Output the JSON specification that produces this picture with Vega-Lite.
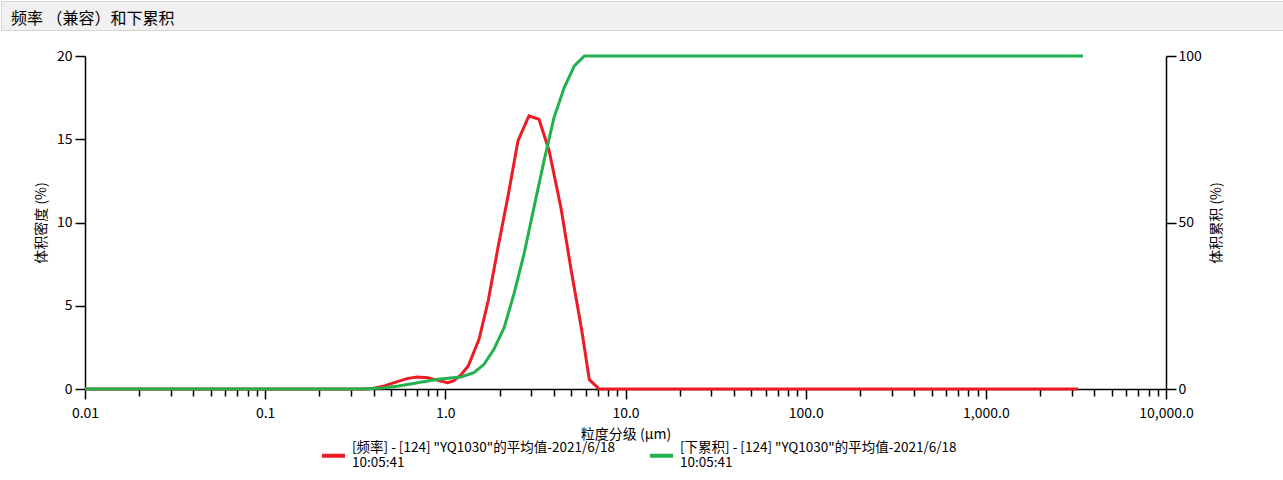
{
  "$schema": "https://vega.github.io/schema/vega-lite/v6.json",
  "padding": 0,
  "background": "white",
  "spacing": 26,
  "bounds": "flush",
  "config": {
    "font": "Noto Sans CJK SC",
    "view": {"stroke": null},
    "axis": {"grid": false, "domainColor": "#000", "tickColor": "#000", "labelColor": "#000", "titleColor": "#000", "labelFontSize": 14, "titleFontSize": 14, "titleFontWeight": "normal", "domainWidth": 1.5, "tickWidth": 1.5}
  },
  "datasets": {
    "freq": [
      {"size": 0.01, "density": 0},
      {"size": 0.36, "density": 0},
      {"size": 0.40, "density": 0.04},
      {"size": 0.46, "density": 0.18},
      {"size": 0.52, "density": 0.38},
      {"size": 0.62, "density": 0.64},
      {"size": 0.70, "density": 0.72},
      {"size": 0.80, "density": 0.68},
      {"size": 0.91, "density": 0.52},
      {"size": 1.03, "density": 0.38},
      {"size": 1.11, "density": 0.48},
      {"size": 1.22, "density": 0.84},
      {"size": 1.34, "density": 1.38},
      {"size": 1.54, "density": 3.0},
      {"size": 1.73, "density": 5.3},
      {"size": 1.96, "density": 8.5},
      {"size": 2.23, "density": 11.6},
      {"size": 2.53, "density": 14.9},
      {"size": 2.91, "density": 16.4},
      {"size": 3.31, "density": 16.2},
      {"size": 3.77, "density": 14.3},
      {"size": 4.38, "density": 10.9},
      {"size": 5.0, "density": 7.1},
      {"size": 5.7, "density": 3.6},
      {"size": 6.3, "density": 0.56},
      {"size": 7.15, "density": 0},
      {"size": 3245, "density": 0}
    ],
    "cum": [
      {"size": 0.01, "cumulative": 0},
      {"size": 0.34, "cumulative": 0},
      {"size": 0.45, "cumulative": 0.3},
      {"size": 0.55, "cumulative": 0.9},
      {"size": 0.70, "cumulative": 1.9},
      {"size": 0.91, "cumulative": 2.9},
      {"size": 1.22, "cumulative": 3.6},
      {"size": 1.44, "cumulative": 4.9},
      {"size": 1.64, "cumulative": 7.4},
      {"size": 1.86, "cumulative": 11.9},
      {"size": 2.12, "cumulative": 18.4},
      {"size": 2.40, "cumulative": 28.4},
      {"size": 2.73, "cumulative": 40.4},
      {"size": 3.10, "cumulative": 54.4},
      {"size": 3.53, "cumulative": 68.5},
      {"size": 4.01, "cumulative": 81.5},
      {"size": 4.57, "cumulative": 90.5},
      {"size": 5.2, "cumulative": 97},
      {"size": 5.91, "cumulative": 100},
      {"size": 3460, "cumulative": 100}
    ]
  },
  "vconcat": [
    {
      "width": 1283,
      "height": 29,
      "data": {"values": [{}]},
      "mark": {"type": "text"},
      "encoding": {"text": {"value": ""}},
      "view": {"fill": "#f0f0f0", "stroke": "#d4d4d4"},
      "title": {"text": "频率 （兼容）和下累积", "anchor": "start", "orient": "top", "frame": "group", "offset": -39, "dx": 10, "baseline": "alphabetic", "fontSize": 16, "fontWeight": "normal", "color": "#000"}
    },
    {
      "spacing": 0,
      "bounds": "flush",
      "hconcat": [
        {
          "width": 84,
          "height": 333,
          "data": {"values": [{}]},
          "mark": {"type": "text"},
          "encoding": {"text": {"value": ""}}
        },
        {
          "width": 1081,
          "height": 333,
          "encoding": {
            "x": {
              "field": "size",
              "type": "quantitative",
              "scale": {"type": "log", "domain": [0.01, 10000], "nice": false},
              "axis": {
                "title": "粒度分级 (µm)",
                "titlePadding": 7,
                "values": [0.01,0.02,0.03,0.04,0.05,0.06,0.07,0.08,0.09,0.1,0.2,0.3,0.4,0.5,0.6,0.7,0.8,0.9,1,2,3,4,5,6,7,8,9,10,20,30,40,50,60,70,80,90,100,200,300,400,500,600,700,800,900,1000,2000,3000,4000,5000,6000,7000,8000,9000,10000],
                "labelExpr": "datum.value == 0.01 ? '0.01' : datum.value == 0.1 ? '0.1' : datum.value == 1 ? '1.0' : datum.value == 10 ? '10.0' : datum.value == 100 ? '100.0' : datum.value == 1000 ? '1,000.0' : datum.value == 10000 ? '10,000.0' : ''",
                "tickSize": {"condition": {"test": "datum.value == 0.01 || datum.value == 0.1 || datum.value == 1 || datum.value == 10 || datum.value == 100 || datum.value == 1000 || datum.value == 10000", "value": 10}, "value": 7},
                "labelPadding": 7,
                "labelFlush": false,
                "labelOverlap": false
              }
            }
          },
          "layer": [
            {
              "data": {"name": "freq"},
              "mark": {"type": "line", "strokeWidth": 3},
              "encoding": {
                "y": {
                  "field": "density",
                  "type": "quantitative",
                  "scale": {"domain": [0, 20], "nice": false},
                  "axis": {"title": "体积密度 (%)", "values": [0, 5, 10, 15, 20], "tickSize": 10, "labelPadding": 3, "titlePadding": 8}
                },
                "color": {
                  "datum": "[频率] - [124] \"YQ1030\"的平均值-2021/6/18\n10:05:41",
                  "type": "nominal",
                  "scale": {
                    "domain": ["[频率] - [124] \"YQ1030\"的平均值-2021/6/18\n10:05:41", "[下累积] - [124] \"YQ1030\"的平均值-2021/6/18\n10:05:41"],
                    "range": ["#EC1C24", "#23B14D"]
                  },
                  "legend": {
                    "orient": "none",
                    "legendX": 319,
                    "legendY": 441,
                    "direction": "horizontal",
                    "title": null,
                    "symbolType": "stroke",
                    "symbolSize": 529,
                    "symbolStrokeWidth": 4,
                    "labelFontSize": 13.5,
                    "labelLimit": 400,
                    "labelOffset": 5,
                    "labelBaseline": "line-bottom",
                    "columnPadding": 27,
                    "padding": 0,
                    "labelColor": "#000",
                    "labelExpr": "split(datum.label, '\\n')"
                  }
                }
              }
            },
            {
              "data": {"name": "cum"},
              "mark": {"type": "line", "strokeWidth": 3},
              "encoding": {
                "y": {
                  "field": "cumulative",
                  "type": "quantitative",
                  "scale": {"domain": [0, 100], "nice": false},
                  "axis": {"title": "体积累积 (%)", "orient": "right", "values": [0, 50, 100], "tickSize": 10, "labelPadding": 2, "titlePadding": 8, "titleAngle": 270, "titleBaseline": "top"}
                },
                "color": {
                  "datum": "[下累积] - [124] \"YQ1030\"的平均值-2021/6/18\n10:05:41",
                  "type": "nominal"
                }
              }
            }
          ],
          "resolve": {"scale": {"y": "independent"}, "axis": {"y": "independent"}}
        }
      ]
    }
  ]
}
